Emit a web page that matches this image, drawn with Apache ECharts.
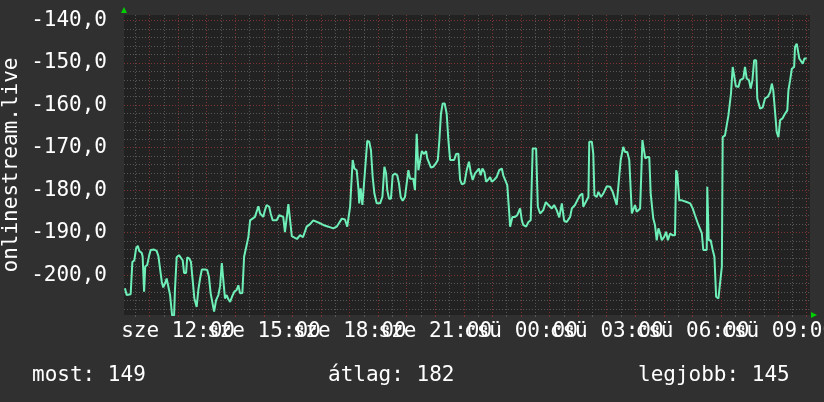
<!DOCTYPE html>
<html><head><meta charset="utf-8">
<script src="https://cdn.jsdelivr.net/npm/echarts@6/dist/echarts.min.js"></script>
<style>html,body{margin:0;padding:0;background:#303030;}#c{width:824px;height:402px;}</style>
</head><body><div id="c"></div>
<script>
// time in hours since "sze 00:00" (values > 24 are on "csü")
const hours = [10.14,10.20,10.34,10.40,10.47,10.53,10.59,10.64,10.73,10.76,10.81,10.85,10.92,10.99,11.04,11.16,11.25,11.31,11.37,11.43,11.48,11.54,11.60,11.66,11.72,11.79,11.86,11.89,11.95,12.03,12.09,12.16,12.21,12.28,12.32,12.39,12.45,12.51,12.57,12.65,12.71,12.77,12.83,12.94,13.02,13.08,13.14,13.20,13.26,13.33,13.41,13.47,13.53,13.58,13.64,13.70,13.76,13.82,13.90,13.97,14.05,14.11,14.17,14.25,14.31,14.40,14.46,14.52,14.58,14.69,14.75,14.81,14.87,14.98,15.04,15.10,15.19,15.24,15.31,15.45,15.54,15.68,15.74,15.86,15.92,15.98,16.02,16.16,16.27,16.37,16.50,16.62,16.73,16.79,16.97,17.08,17.26,17.43,17.55,17.73,17.84,17.92,18.02,18.11,18.17,18.25,18.31,18.34,18.39,18.45,18.51,18.57,18.62,18.69,18.75,18.81,18.87,18.95,19.07,19.15,19.22,19.28,19.32,19.38,19.45,19.51,19.59,19.67,19.73,19.79,19.86,19.94,20.00,20.06,20.12,20.18,20.23,20.29,20.35,20.41,20.47,20.53,20.61,20.68,20.72,20.78,20.85,20.93,21.02,21.09,21.14,21.20,21.26,21.33,21.40,21.46,21.52,21.58,21.66,21.73,21.81,21.87,21.93,22.02,22.10,22.18,22.24,22.31,22.39,22.45,22.53,22.59,22.65,22.72,22.78,22.86,22.92,22.98,23.06,23.15,23.24,23.33,23.38,23.44,23.52,23.59,23.62,23.70,23.79,23.87,23.97,24.03,24.08,24.18,24.26,24.34,24.41,24.53,24.59,24.67,24.78,24.87,24.96,25.08,25.16,25.25,25.34,25.43,25.51,25.60,25.72,25.78,25.89,25.97,26.07,26.15,26.18,26.24,26.36,26.39,26.48,26.53,26.57,26.65,26.71,26.80,26.88,27.00,27.12,27.21,27.35,27.41,27.49,27.58,27.64,27.72,27.79,27.88,27.99,28.05,28.17,28.23,28.25,28.31,28.35,28.42,28.49,28.54,28.63,28.69,28.75,28.81,28.87,28.93,29.01,29.08,29.14,29.22,29.30,29.39,29.43,29.47,29.54,29.63,29.80,29.92,30.01,30.09,30.21,30.27,30.33,30.38,30.50,30.52,30.57,30.64,30.71,30.77,30.83,30.91,30.97,31.03,31.06,31.14,31.20,31.26,31.32,31.35,31.41,31.46,31.52,31.61,31.67,31.78,31.84,31.90,31.98,32.04,32.10,32.16,32.23,32.27,32.37,32.46,32.54,32.64,32.72,32.78,32.83,32.89,32.95,33.01,33.07,33.15,33.24,33.32,33.36,33.42,33.48,33.56,33.59,33.65,33.71,33.74,33.80,33.86,33.92,34.00];
const values = [-203.1,-204.7,-204.5,-196.9,-196.5,-193.7,-193.1,-194.3,-194.8,-195.7,-203.9,-198.0,-197.6,-195.3,-194.1,-194.0,-194.3,-195.5,-195.7,-201.6,-202.9,-202.0,-200.8,-200.4,-204.7,-209.5,-209.5,-203.5,-195.8,-195.3,-195.1,-196.5,-199.5,-199.5,-195.8,-196.1,-196.9,-201.2,-205.5,-207.5,-203.4,-200.8,-198.7,-198.7,-198.8,-200.4,-204.3,-204.7,-208.6,-205.9,-204.7,-202.6,-197.2,-197.1,-205.5,-204.7,-205.7,-206.3,-204.9,-203.9,-203.5,-202.4,-204.3,-204.2,-195.7,-192.9,-191.0,-187.1,-186.7,-186.3,-185.9,-183.8,-185.5,-186.3,-184.7,-183.5,-183.9,-185.5,-187.1,-187.1,-185.9,-186.3,-189.9,-183.3,-183.3,-190.8,-190.8,-191.5,-190.6,-191.1,-188.6,-188.0,-187.1,-186.7,-187.8,-188.2,-188.6,-189.0,-188.6,-186.7,-186.9,-188.6,-183.9,-172.9,-174.9,-175.3,-179.6,-183.1,-179.6,-183.5,-183.5,-172.9,-168.4,-168.6,-170.6,-176.9,-180.8,-183.1,-183.1,-181.6,-174.5,-176.1,-180.0,-182.0,-182.0,-176.5,-176.1,-176.5,-178.4,-181.6,-182.5,-181.6,-181.6,-175.3,-177.3,-177.6,-177.3,-180.0,-166.7,-175.3,-174.9,-170.8,-171.5,-170.8,-172.5,-172.9,-174.7,-174.5,-173.7,-172.9,-168.6,-162.0,-159.6,-159.6,-162.0,-168.2,-172.9,-172.5,-172.9,-171.5,-171.4,-177.6,-178.6,-178.4,-175.3,-173.3,-175.7,-177.6,-176.1,-175.7,-174.9,-176.5,-174.9,-175.7,-178.0,-177.5,-176.9,-178.0,-177.6,-176.9,-175.3,-174.9,-176.5,-176.5,-178.8,-185.5,-188.6,-186.3,-186.3,-185.9,-184.3,-187.1,-188.2,-188.6,-187.5,-187.1,-170.2,-170.2,-183.9,-185.5,-184.7,-182.8,-183.5,-184.3,-183.5,-184.7,-186.4,-183.1,-187.2,-187.5,-186.3,-184.3,-183.5,-182.4,-181.2,-180.8,-183.9,-183.8,-181.6,-168.6,-168.6,-171.4,-181.2,-181.6,-180.4,-181.6,-180.8,-179.1,-179.2,-180.4,-183.5,-183.9,-172.9,-169.8,-171.0,-171.0,-172.9,-185.5,-183.5,-185.1,-184.3,-184.7,-168.2,-168.2,-172.5,-172.2,-172.2,-180.8,-186.7,-188.2,-191.8,-189.0,-190.2,-191.8,-191.0,-189.8,-191.8,-190.2,-190.6,-190.6,-175.3,-176.1,-182.4,-182.4,-182.8,-183.1,-184.3,-185.9,-188.2,-188.6,-190.2,-194.1,-194.1,-179.2,-191.8,-191.8,-194.1,-195.7,-205.1,-205.5,-205.9,-198.0,-167.5,-167.1,-166.7,-162.4,-162.4,-157.2,-151.0,-151.0,-155.5,-155.7,-154.1,-153.7,-151.0,-153.7,-154.1,-156.1,-154.1,-149.4,-149.4,-158.4,-160.8,-160.5,-158.4,-158.0,-156.9,-154.9,-156.5,-156.9,-166.3,-167.5,-163.5,-163.1,-162.0,-161.2,-156.5,-154.1,-151.4,-151.0,-146.3,-145.5,-145.5,-149.0,-149.0,-150.2,-149.0,-149.0];

const xMajorHours = [11,12,13,14,15,16,17,18,19,20,21,22,23,24,25,26,27,28,29,30,31,32,33,34];
const xMinorHours = [10.5,11.5,12.5,13.5,14.5,15.5,16.5,17.5,18.5,19.5,20.5,21.5,22.5,23.5,24.5,25.5,26.5,27.5,28.5,29.5,30.5,31.5,32.5,33.5];
const xLabelHours = [12,15,18,21,24,27,30,33];
const xLabelTexts = ['sze 12:00','sze 15:00','sze 18:00','sze 21:00','csü 00:00','csü 03:00','csü 06:00','csü 09:00'];
const yMajor = [-200,-190,-180,-170,-160,-150,-140];
const yMinor = [-208,-206,-204,-202,-198,-196,-194,-192,-188,-186,-184,-182,-178,-176,-174,-172,-168,-166,-164,-162,-158,-156,-154,-152,-148,-146,-144,-142];
const yAxisTitle = 'onlinestream.live';
const legendTexts = ['most: 149', 'átlag: 182', 'legjobb: 145'];

const X_MIN = 10.107, X_MAX = 34.115, Y_MIN = -209.4, Y_MAX = -138.75;
const FONT = 'DejaVu Sans Mono';
const RED = '#7e3232', GREY = '#565656';

const chart = echarts.init(document.getElementById('c'), null, {renderer: 'canvas'});
const data = hours.map((h, i) => [h, values[i]]);

// labels split over two axes (every other label) so the library does not drop overlapping ones
const labelsA = xLabelHours.filter((h, i) => i % 2 === 0);
const labelsB = xLabelHours.filter((h, i) => i % 2 === 1);
const fmtX = v => xLabelTexts[xLabelHours.indexOf(Math.round(v))];
const labelStyle = {color: '#ffffff', fontFamily: FONT, fontSize: 21, margin: 6,
  showMinLabel: true, showMaxLabel: true, hideOverlap: false, formatter: fmtX};
const legendStyle = {color: '#ffffff', fontFamily: FONT, fontSize: 21, fontWeight: 'normal'};

chart.setOption({
  animation: false,
  backgroundColor: '#303030',
  grid: {left: 124, top: 15, width: 686, height: 300, show: true, backgroundColor: '#222222', borderWidth: 0,
         containLabel: false, outerBoundsMode: 'none'},
  title: [
    {text: legendTexts[0], left: 32, top: 365, padding: 0, textStyle: legendStyle},
    {text: legendTexts[1], left: 328, top: 365, padding: 0, textStyle: legendStyle},
    {text: legendTexts[2], left: 638, top: 365, padding: 0, textStyle: legendStyle}
  ],
  xAxis: [
    {type: 'value', min: X_MIN, max: X_MAX, position: 'bottom',
     axisLine: {show: false},
     axisTick: {show: true, length: 2, customValues: xMajorHours, lineStyle: {color: RED}},
     splitLine: {show: true, lineStyle: {color: RED, type: [1, 2], width: 1}},
     axisLabel: Object.assign({customValues: labelsA}, labelStyle)},
    {type: 'value', min: X_MIN, max: X_MAX, position: 'bottom',
     axisLine: {show: false}, axisLabel: {show: false},
     axisTick: {show: true, length: 2, customValues: xMinorHours, lineStyle: {color: GREY}},
     splitLine: {show: true, lineStyle: {color: GREY, type: [1, 2], width: 1}}},
    {type: 'value', min: X_MIN, max: X_MAX, position: 'bottom',
     axisLine: {show: false}, splitLine: {show: false},
     axisTick: {show: false, customValues: labelsB},
     axisLabel: Object.assign({customValues: labelsB}, labelStyle)}
  ],
  yAxis: [
    {type: 'value', min: Y_MIN, max: Y_MAX, position: 'left',
     name: yAxisTitle, nameLocation: 'middle', nameRotate: 90, nameGap: 102, nameMoveOverlap: false,
     nameTextStyle: {color: '#ffffff', fontFamily: FONT, fontSize: 21},
     axisLine: {show: false}, axisTick: {show: false, customValues: yMajor},
     splitLine: {show: true, lineStyle: {color: RED, type: [1, 2], width: 1}},
     axisLabel: {customValues: yMajor, showMinLabel: true, showMaxLabel: true,
       color: '#ffffff', fontFamily: FONT, fontSize: 21, margin: 17,
       formatter: v => v.toFixed(1).replace('.', ',')}},
    {type: 'value', min: Y_MIN, max: Y_MAX, position: 'left',
     axisLine: {show: false}, axisLabel: {show: false},
     axisTick: {show: false, customValues: yMinor},
     splitLine: {show: true, lineStyle: {color: GREY, type: [1, 2], width: 1}}}
  ],
  graphic: [
    {type: 'polygon', shape: {points: [[121, 13], [127, 13], [124, 7]]}, style: {fill: '#00d000'}, silent: true},
    {type: 'polygon', shape: {points: [[811, 312], [811, 318], [817, 315]]}, style: {fill: '#00d000'}, silent: true}
  ],
  series: [{
    type: 'line', xAxisIndex: 0, yAxisIndex: 0, data: data, showSymbol: false,
    lineStyle: {color: '#6fefb8', width: 2}, clip: true, z: 5
  }]
});
</script></body></html>
